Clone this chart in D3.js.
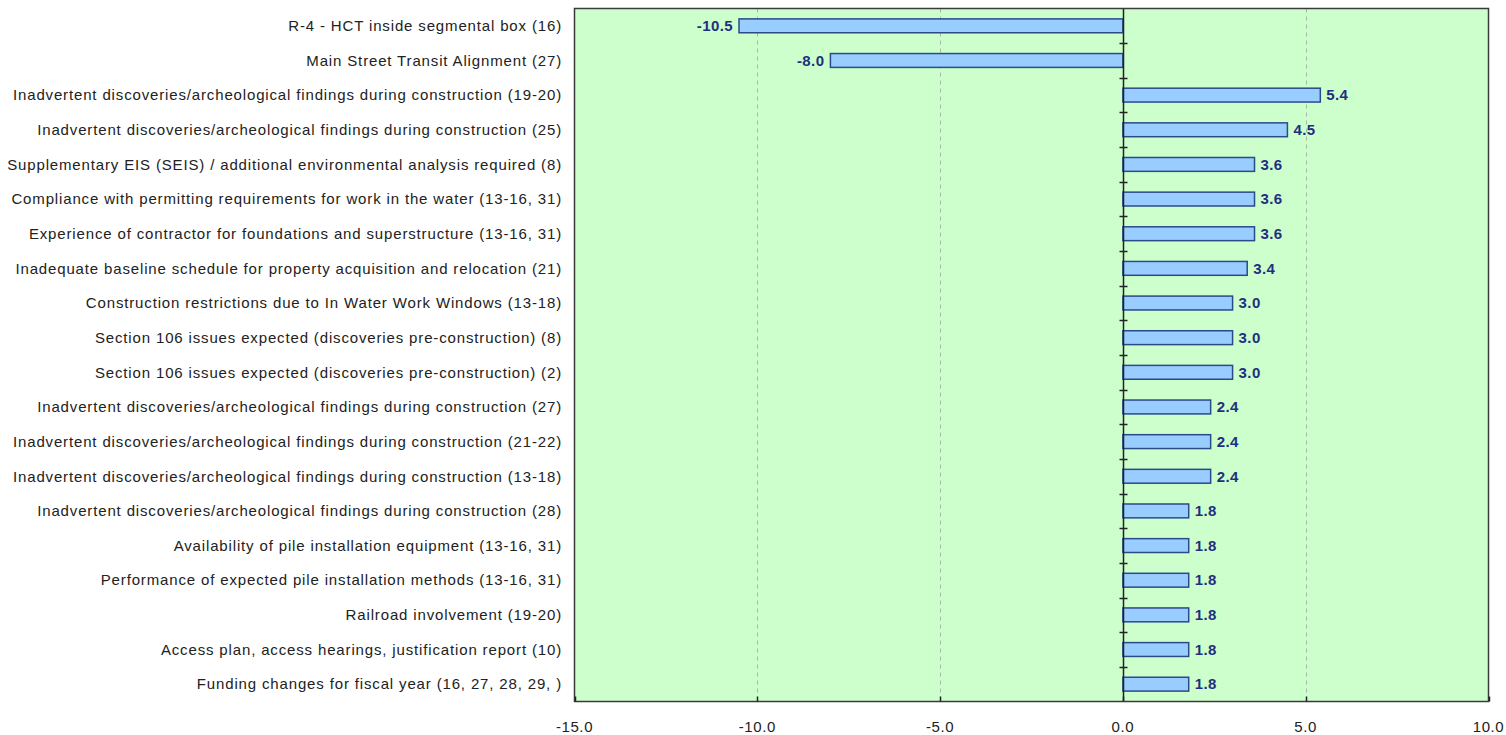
<!DOCTYPE html>
<html>
<head>
<meta charset="utf-8">
<script src="https://cdn.jsdelivr.net/npm/d3@7"></script>
<style>
html,body{margin:0;padding:0;background:#fff;}
svg{display:block;}
</style>
</head>
<body>
<svg id="chart" width="1506" height="735"></svg>
<script>
const categories = [
  "R-4 - HCT inside segmental box (16)",
  "Main Street Transit Alignment (27)",
  "Inadvertent discoveries/archeological findings during construction (19-20)",
  "Inadvertent discoveries/archeological findings during construction (25)",
  "Supplementary EIS (SEIS) / additional environmental analysis required (8)",
  "Compliance with permitting requirements for work in the water (13-16, 31)",
  "Experience of contractor for foundations and superstructure (13-16, 31)",
  "Inadequate baseline schedule for property acquisition and relocation (21)",
  "Construction restrictions due to In Water Work Windows (13-18)",
  "Section 106 issues expected (discoveries pre-construction) (8)",
  "Section 106 issues expected (discoveries pre-construction) (2)",
  "Inadvertent discoveries/archeological findings during construction (27)",
  "Inadvertent discoveries/archeological findings during construction (21-22)",
  "Inadvertent discoveries/archeological findings during construction (13-18)",
  "Inadvertent discoveries/archeological findings during construction (28)",
  "Availability of pile installation equipment (13-16, 31)",
  "Performance of expected pile installation methods (13-16, 31)",
  "Railroad involvement (19-20)",
  "Access plan, access hearings, justification report (10)",
  "Funding changes for fiscal year (16, 27, 28, 29, )"
];
const values = [-10.5, -8.0, 5.4, 4.5, 3.6, 3.6, 3.6, 3.4, 3.0, 3.0, 3.0, 2.4, 2.4, 2.4, 1.8, 1.8, 1.8, 1.8, 1.8, 1.8];
const xTicks = [-15, -10, -5, 0, 5, 10];
const xDomain = [-15, 10];

const FONT = "Arial, 'Liberation Sans', sans-serif";
const svg = d3.select("#chart");
const m = {left: 574.5, right: 1488.5, top: 8.5, bottom: 701.5};

const x = d3.scaleLinear().domain(xDomain).range([m.left, m.right]);
const y = d3.scaleBand().domain(categories).range([m.top, m.bottom]).paddingInner(0.6).paddingOuter(0.3);
const yb = d3.scaleBand().domain(categories).range([m.top, m.bottom]);

// background
svg.append("rect").attr("x", m.left).attr("y", m.top)
  .attr("width", m.right - m.left).attr("height", m.bottom - m.top)
  .attr("fill", "#ccffcc");

// grid lines
svg.append("g").selectAll("line").data(xTicks.filter(d => d !== 0 && d !== xDomain[0] && d !== xDomain[1]))
  .join("line")
  .attr("x1", d => Math.round(x(d)) + 0.5).attr("x2", d => Math.round(x(d)) + 0.5)
  .attr("y1", m.top).attr("y2", m.bottom)
  .attr("stroke", "#a8b8a8").attr("stroke-width", 1).attr("stroke-dasharray", "4,4");

// bars
svg.append("g").selectAll("rect").data(values).join("rect")
  .attr("x", d => x(Math.min(0, d)))
  .attr("y", (d, i) => y(categories[i]))
  .attr("width", d => Math.abs(x(d) - x(0)))
  .attr("height", y.bandwidth())
  .attr("fill", "#99ccff").attr("stroke", "#2a4a8a").attr("stroke-width", 1.5);

// zero axis line and ticks
const x0 = Math.round(x(0)) + 0.5;
svg.append("line").attr("x1", x0).attr("x2", x0).attr("y1", m.top).attr("y2", m.bottom)
  .attr("stroke", "#222").attr("stroke-width", 1.5);
svg.append("g").selectAll("line").data(categories.slice(1)).join("line")
  .attr("x1", x0 - 4).attr("x2", x0 + 4)
  .attr("y1", d => Math.round(yb(d)) + 0.5).attr("y2", d => Math.round(yb(d)) + 0.5)
  .attr("stroke", "#222").attr("stroke-width", 1.5);

// value labels
svg.append("g").selectAll("text").data(values).join("text")
  .attr("x", d => d < 0 ? x(d) - 6 : x(d) + 6)
  .attr("y", (d, i) => yb(categories[i]) + yb.bandwidth() / 2)
  .attr("dy", "0.35em")
  .attr("text-anchor", d => d < 0 ? "end" : "start")
  .attr("font-family", FONT)
  .attr("font-size", 15).attr("font-weight", "bold")
  .attr("letter-spacing", "0.4px")
  .attr("fill", "#1f2f80")
  .text(d => d.toFixed(1));

// plot border
svg.append("rect").attr("x", m.left).attr("y", m.top)
  .attr("width", m.right - m.left).attr("height", m.bottom - m.top)
  .attr("fill", "none").attr("stroke", "#3a3a3a").attr("stroke-width", 1.5);

// bottom ticks (inward)
svg.append("g").selectAll("line").data(xTicks).join("line")
  .attr("x1", d => Math.round(x(d)) + 0.5).attr("x2", d => Math.round(x(d)) + 0.5)
  .attr("y1", m.bottom).attr("y2", m.bottom - 5)
  .attr("stroke", "#222").attr("stroke-width", 1.5);

// x tick labels
svg.append("g").selectAll("text").data(xTicks).join("text")
  .attr("x", d => x(d)).attr("y", 732)
  .attr("text-anchor", "middle")
  .attr("font-family", FONT)
  .attr("font-size", 15).attr("letter-spacing", "0.6px").attr("fill", "#222")
  .text(d => d.toFixed(1));

// category labels
svg.append("g").selectAll("text").data(categories).join("text")
  .attr("x", 562)
  .attr("y", d => yb(d) + yb.bandwidth() / 2)
  .attr("dy", "0.35em")
  .attr("text-anchor", "end")
  .attr("font-family", FONT)
  .attr("font-size", 15).attr("letter-spacing", "0.85px").attr("fill", "#222")
  .text(d => d);
</script>
</body>
</html>
